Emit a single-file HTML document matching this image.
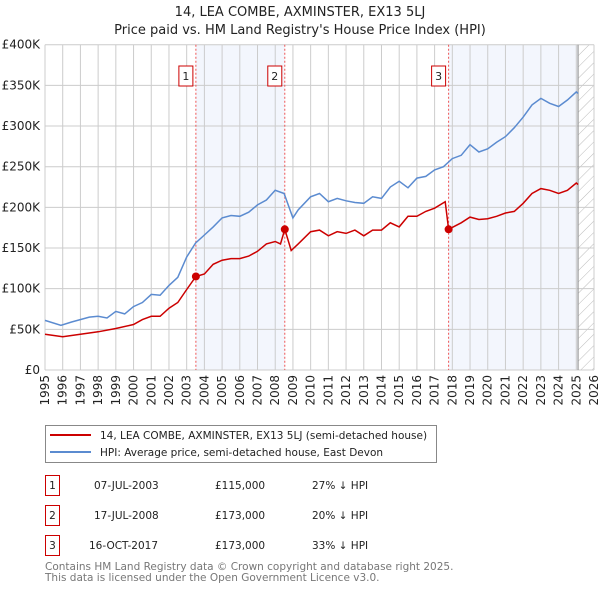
<!DOCTYPE html>
<html><head><meta charset="utf-8"><style>
body{margin:0;background:#fff;font-family:"DejaVu Sans","Liberation Sans",sans-serif;}
svg{display:block}
</style></head><body>
<svg id="c" width="600" height="590" xmlns="http://www.w3.org/2000/svg" font-family="DejaVu Sans, Liberation Sans, sans-serif">
<defs><pattern id="h" width="8" height="8" patternUnits="userSpaceOnUse" patternTransform="rotate(45)"><line x1="0" y1="0" x2="0" y2="8" stroke="#bbb" stroke-width="1"/></pattern></defs>
<text x="300" y="16" text-anchor="middle" font-size="13" fill="#222">14, LEA COMBE, AXMINSTER, EX13 5LJ</text>
<text x="300" y="34" text-anchor="middle" font-size="13" fill="#222">Price paid vs. HM Land Registry's House Price Index (HPI)</text>
<g id="plot"></g>
<g>
<rect x="45.5" y="425.5" width="391" height="37" fill="#fff" stroke="#888"/>
<line x1="50" y1="435" x2="91" y2="435" stroke="#cc0000" stroke-width="2"/>
<text x="100" y="439" font-size="10.5" fill="#222">14, LEA COMBE, AXMINSTER, EX13 5LJ (semi-detached house)</text>
<line x1="50" y1="452" x2="91" y2="452" stroke="#5b8bd0" stroke-width="2"/>
<text x="100" y="456" font-size="10.5" fill="#222">HPI: Average price, semi-detached house, East Devon</text>
</g>
<g font-size="10.5" fill="#222">
<rect x="45.5" y="475.5" width="14" height="20" fill="none" stroke="#cc0000"/><text x="52.5" y="489" text-anchor="middle">1</text>
<text x="94" y="489">07-JUL-2003</text><text x="215" y="489">£115,000</text><text x="312" y="489">27% ↓ HPI</text>
<rect x="45.5" y="505.5" width="14" height="20" fill="none" stroke="#cc0000"/><text x="52.5" y="519" text-anchor="middle">2</text>
<text x="94" y="519">17-JUL-2008</text><text x="215" y="519">£173,000</text><text x="312" y="519">20% ↓ HPI</text>
<rect x="45.5" y="535.5" width="14" height="20" fill="none" stroke="#cc0000"/><text x="52.5" y="549" text-anchor="middle">3</text>
<text x="89" y="549">16-OCT-2017</text><text x="215" y="549">£173,000</text><text x="312" y="549">33% ↓ HPI</text>
</g>
<text x="45" y="570" font-size="10.5" fill="#777">Contains HM Land Registry data © Crown copyright and database right 2025.</text>
<text x="45" y="581" font-size="10.5" fill="#777">This data is licensed under the Open Government Licence v3.0.</text>
</svg>
<script>
const hpiYears=[1995,1995.9,1996.5,1997.5,1998,1998.5,1999,1999.5,2000,2000.5,2001,2001.5,2002,2002.5,2003,2003.5,2004,2004.5,2005,2005.5,2006,2006.5,2007,2007.5,2008,2008.5,2009,2009.3,2010,2010.5,2011,2011.5,2012,2012.5,2013,2013.5,2014,2014.5,2015,2015.5,2016,2016.5,2017,2017.5,2018,2018.5,2019,2019.5,2020,2020.5,2021,2021.5,2022,2022.5,2023,2023.5,2024,2024.5,2025,2025.1];
const hpiValues=[61,55,59,65,66,64,72,69,78,83,93,92,104,114,139,156,166,176,187,190,189,194,203,209,221,217,187,197,213,217,207,211,208,206,205,213,211,225,232,224,236,238,246,250,260,264,277,268,272,280,287,298,311,326,334,328,324,332,342,340];
const priceYears=[1995,1996,1997,1998,1999,2000,2000.5,2001,2001.5,2002,2002.5,2003,2003.52,2004,2004.5,2005,2005.5,2006,2006.5,2007,2007.5,2008,2008.3,2008.54,2008.9,2009.3,2010,2010.5,2011,2011.5,2012,2012.5,2013,2013.5,2014,2014.5,2015,2015.5,2016,2016.5,2017,2017.6,2017.79,2018.5,2019,2019.5,2020,2020.5,2021,2021.5,2022,2022.5,2023,2023.5,2024,2024.5,2025,2025.1];
const priceValues=[44,41,44,47,51,56,62,66,66,76,83,99,115,118,130,135,137,137,140,146,155,158,155,173,147,155,170,172,165,170,168,172,165,172,172,181,176,189,189,195,199,207,173,181,188,185,186,189,193,195,205,217,223,221,217,221,230,228];
const saleYears=[2003.52,2008.54,2017.79];
const saleValues=[115,173,173];
const saleLabels=["1","2","3"];
const yTicks=[0,50,100,150,200,250,300,350,400];
const yTickLabels=["£0","£50K","£100K","£150K","£200K","£250K","£300K","£350K","£400K"];
const xTicks=[1995,1996,1997,1998,1999,2000,2001,2002,2003,2004,2005,2006,2007,2008,2009,2010,2011,2012,2013,2014,2015,2016,2017,2018,2019,2020,2021,2022,2023,2024,2025,2026];
const dataEnd=2025.1;

const L=45,R=594,T=44.7,B=370,x0=1995,x1=2026,vMax=400;
const X=y=>L+(y-x0)/(x1-x0)*(R-L);
const Y=v=>B-v/vMax*(B-T);
const NS="http://www.w3.org/2000/svg";
const g=document.getElementById('plot');
function mk(t,a,p){const e=document.createElementNS(NS,t);for(const k in a)e.setAttribute(k,a[k]);(p||g).appendChild(e);return e;}
let s1=mk('rect',{x:X(saleYears[0]),y:T,width:X(saleYears[1])-X(saleYears[0]),height:B-T,fill:'#f3f6fd'});


let s2=mk('rect',{x:X(saleYears[2]),y:T,width:X(dataEnd)-X(saleYears[2]),height:B-T,fill:'#f3f6fd'});


let hz=mk('rect',{x:X(dataEnd),y:T,width:R-X(dataEnd),height:B-T,fill:'url(#h)'});


yTicks.forEach((v,i)=>{
 let l=mk('line',{x1:L,x2:R,y1:Y(v),y2:Y(v),stroke:'#ccc','stroke-width':1});
 
 
 let t=mk('text',{x:L-5,y:Y(v)+4,'text-anchor':'end','font-size':12,fill:'#222'});
 t.textContent=yTickLabels[i];
 
 
});
xTicks.forEach(yr=>{
 let l=mk('line',{x1:X(yr),x2:X(yr),y1:T,y2:B,stroke:'#ccc','stroke-width':1});
 
 
 let t=mk('text',{x:0,y:0,'text-anchor':'end','font-size':12,fill:'#222',transform:`translate(${X(yr)+4},${B+5}) rotate(-90)`});
 t.textContent=yr;
 
 
});
let el=mk('line',{x1:X(dataEnd),x2:X(dataEnd),y1:T,y2:B,stroke:'#999','stroke-width':1.2});


saleYears.forEach((yr,i)=>{
 let l=mk('line',{x1:X(yr),x2:X(yr),y1:T,y2:B,stroke:'#e55','stroke-width':1,'stroke-dasharray':'2,2'});
 
 
 let r=mk('rect',{x:X(yr)-17,y:66,width:14,height:20,fill:'#fff',stroke:'#cc0000'});
 
 
 let t=mk('text',{x:X(yr)-10,y:80,'text-anchor':'middle','font-size':11,fill:'#222'});
 t.textContent=saleLabels[i];
 
 
});
const pts=(xs,vs)=>xs.map((x,i)=>X(x).toFixed(1)+','+Y(vs[i]).toFixed(1)).join(' ');
let hl=mk('polyline',{points:pts(hpiYears,hpiValues),fill:'none',stroke:'#5b8bd0','stroke-width':1.5});


let pl=mk('polyline',{points:pts(priceYears,priceValues),fill:'none',stroke:'#cc0000','stroke-width':1.5});


saleYears.forEach((yr,i)=>{
 let c=mk('circle',{cx:X(yr),cy:Y(saleValues[i]),r:4,fill:'#cc0000'});
 
 
});
</script>
</body></html>
